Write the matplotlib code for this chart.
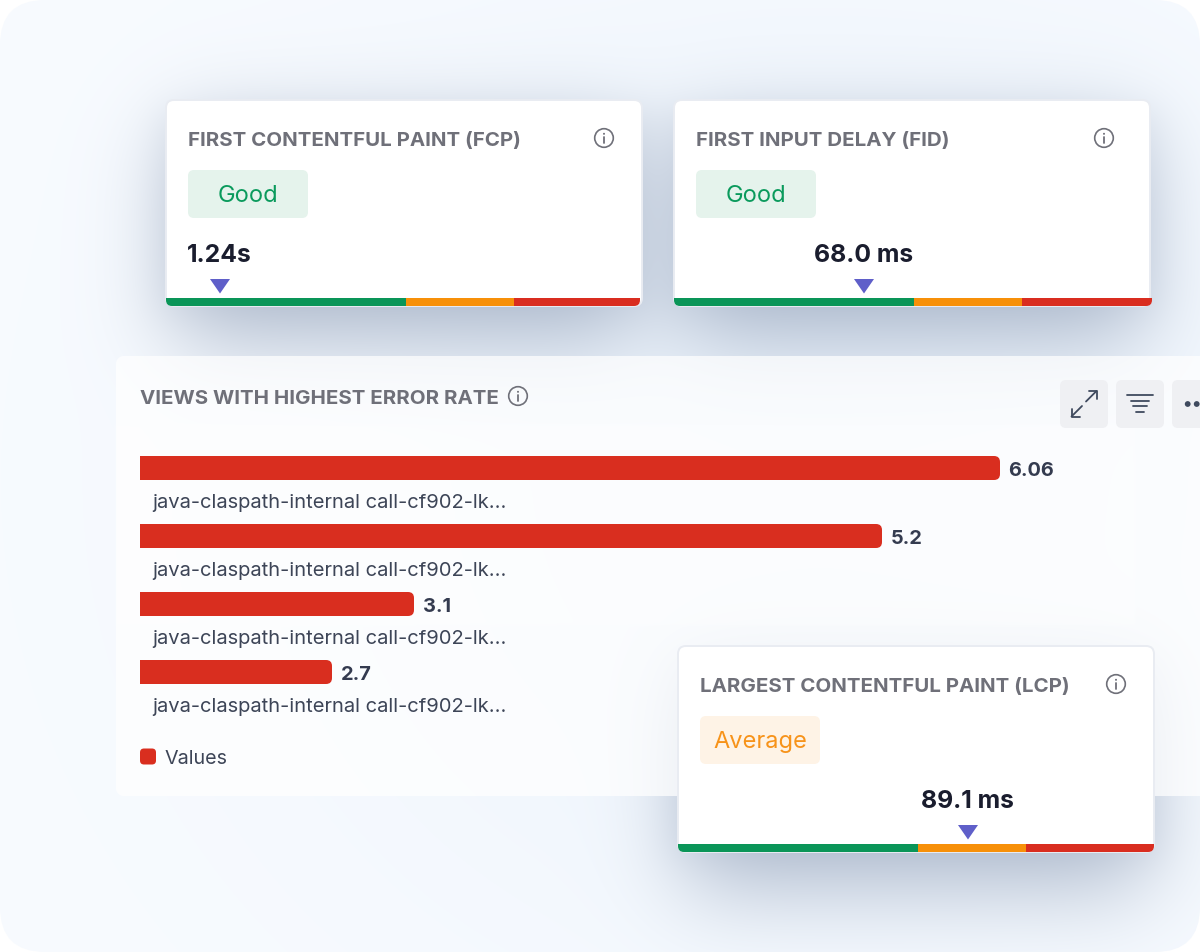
import math

import matplotlib
matplotlib.use('Agg')
import matplotlib.pyplot as plt
import numpy as np
from matplotlib.patches import Circle, PathPatch, Polygon
from matplotlib.path import Path

plt.rcParams['font.family'] = ['Inter', 'DejaVu Sans']

WIDTH, HEIGHT = 1200, 952

# bar chart values, the drawn lengths are not proportional to the labels in the source
view_names = ['java-claspath-internal call-cf902-lk...'] * 4
view_values = ['6.06', '5.2', '3.1', '2.7']
view_lengths = [860, 742, 274, 192]
legend_label = 'Values'
panel_title = 'VIEWS WITH HIGHEST ERROR RATE'

card_titles = ['FIRST CONTENTFUL PAINT (FCP)', 'FIRST INPUT DELAY (FID)', 'LARGEST CONTENTFUL PAINT (LCP)']
card_status = ['Good', 'Good', 'Average']
card_readings = ['1.24s', '68.0 ms', '89.1 ms']
card_reading_center = [219, 863.5, 967]
card_marker_x = [220, 864, 968]
# green / orange / red segment lengths of the gauge strip on each card
gauge_segments = [[240, 108, 126], [240, 108, 130], [240, 108, 128]]

GREEN = '#0a9558'
ORANGE = '#f79009'
RED = '#d92d20'
RED_BAR = '#d92e1f'
TITLE_GREY = '#6f7079'
DARK = '#1a1d2e'
SLATE = '#3d4557'
MARKER = '#5f5fc9'


def rrect(x0, y0, x1, y1, tl=0, tr=0, br=0, bl=0):
    verts = [(x0 + tl, y0), (x1 - tr, y0), (x1, y0), (x1, y0 + tr), (x1, y1 - br), (x1, y1), (x1 - br, y1),
             (x0 + bl, y1), (x0, y1), (x0, y1 - bl), (x0, y0 + tl), (x0, y0), (x0 + tl, y0), (x0 + tl, y0)]
    codes = [Path.MOVETO, Path.LINETO, Path.CURVE3, Path.CURVE3, Path.LINETO, Path.CURVE3, Path.CURVE3,
             Path.LINETO, Path.CURVE3, Path.CURVE3, Path.LINETO, Path.CURVE3, Path.CURVE3, Path.CLOSEPOLY]
    return Path(verts, codes)


def add_rrect(ax, x0, y0, x1, y1, r=(0, 0, 0, 0), color='white', **kwargs):
    patch = PathPatch(rrect(x0, y0, x1, y1, *r), facecolor=color, edgecolor=kwargs.pop('edgecolor', 'none'),
                      linewidth=kwargs.pop('linewidth', 0), **kwargs)
    ax.add_patch(patch)
    return patch


def soft_rect(x0, y0, x1, y1, sigma):
    # gaussian blurred rectangle, used for the drop shadows
    def edge(coords, a, b):
        s = sigma * math.sqrt(2)
        return np.array([0.5 * (math.erf((c - a) / s) - math.erf((c - b) / s)) for c in coords])
    return np.outer(edge(np.arange(HEIGHT) + 0.5, y0, y1), edge(np.arange(WIDTH) + 0.5, x0, x1))


def round_mask(x0, y0, x1, y1, r):
    yy, xx = np.mgrid[0:HEIGHT, 0:WIDTH] + 0.5
    cx, cy = (x0 + x1) / 2, (y0 + y1) / 2
    dx = np.abs(xx - cx) - ((x1 - x0) / 2 - r)
    dy = np.abs(yy - cy) - ((y1 - y0) / 2 - r)
    dist = np.hypot(np.maximum(dx, 0), np.maximum(dy, 0)) + np.minimum(np.maximum(dx, dy), 0) - r
    return np.clip(0.5 - dist, 0, 1)


def over(img, color, alpha):
    return img * (1 - alpha[..., None]) + np.array(color, dtype=float) * alpha[..., None]


def build_background():
    yy, xx = np.mgrid[0:HEIGHT, 0:WIDTH]
    img = np.ones((HEIGHT, WIDTH, 3)) * np.array([248.0, 251.0, 255.0])
    glow = np.exp(-(((xx - 820) / 520.0) ** 2 + ((yy - 480) / 480.0) ** 2))
    img = over(img, (232, 241, 251), 0.75 * glow)

    shadow = (112, 130, 160)
    for x0, y0, x1, y1 in [(166, 100, 642, 306), (674, 100, 1150, 306), (678, 646, 1154, 852)]:
        img = over(img, shadow, 0.50 * soft_rect(x0 + 8, y0 + 30, x1 - 8, y1 + 36, 44))
        img = over(img, shadow, 0.08 * soft_rect(x0 - 8, y0 + 8, x1 + 8, y1 + 8, 16))

    # translucent chart panel sits over the shadows
    img = over(img, (255, 255, 255), 0.72 * round_mask(116, 356, 1500, 796, 8))
    img = over(img, (255, 255, 255), 0.25 * soft_rect(116, 425, 1135, 625, 1.0))
    return np.clip(img, 0, 255).astype(np.uint8)


def info_icon(ax, cx, cy):
    ax.add_patch(Circle((cx, cy), 9.3, facecolor='none', edgecolor=TITLE_GREY, linewidth=1.2, zorder=6))
    ax.plot([cx, cx], [cy - 1, cy + 5], color=TITLE_GREY, linewidth=1.3, solid_capstyle='round', zorder=6)
    ax.add_patch(Circle((cx, cy - 4.2), 1.0, facecolor=TITLE_GREY, edgecolor='none', zorder=6))


def draw_card(ax, x0, y0, idx):
    x1, y1 = x0 + 476, y0 + 206
    add_rrect(ax, x0, y0, x1, y1, (8, 8, 8, 8), color='white', edgecolor='#e9ecf2', linewidth=1.4, zorder=4)
    ax.text(x0 + 22.5, y0 + 41, card_titles[idx], fontsize=14.75, fontweight='bold', color=TITLE_GREY,
            va='center', ha='left', zorder=6)
    info_icon(ax, x0 + (438 if idx == 0 else 430 if idx == 1 else 438), y0 + 38)

    pill_color, text_color = ('#e5f3ec', '#0a9a5c') if card_status[idx] == 'Good' else ('#fef3e6', '#f7931a')
    add_rrect(ax, x0 + 22, y0 + 70, x0 + 142, y0 + 118, (6, 6, 6, 6), color=pill_color, zorder=5)
    ax.text(x0 + 82, y0 + 96, card_status[idx], fontsize=17.0, color=text_color, va='center', ha='center', zorder=6)

    ax.text(card_reading_center[idx], y0 + 156, card_readings[idx], fontsize=17.8, fontweight='bold',
            color=DARK, va='center', ha='center', zorder=6)
    mx = card_marker_x[idx]
    ax.add_patch(Polygon([(mx - 10, y0 + 179), (mx + 10, y0 + 179), (mx, y0 + 193.5)], closed=True,
                         facecolor=MARKER, edgecolor='none', zorder=6))

    # gauge strip along the bottom edge
    left = x0
    strip_top, strip_bot = y0 + 198, y0 + 206
    for seg, color, r in zip(gauge_segments[idx], [GREEN, ORANGE, RED], [(0, 0, 0, 6), (0, 0, 0, 0), (0, 0, 6, 0)]):
        add_rrect(ax, left, strip_top, left + seg, strip_bot, r, color=color, zorder=7)
        left += seg


def draw_toolbar(ax):
    for x0 in (1060, 1116, 1172):
        add_rrect(ax, x0, 380, x0 + 48, 428, (6, 6, 6, 6), color='#eff0f3', zorder=3)
    style = dict(color='#3f4a5e', linewidth=1.3, solid_capstyle='round', solid_joinstyle='round', zorder=4)
    ax.plot([1086, 1096.5], [401.5, 391], **style)
    ax.plot([1088.5, 1096.5, 1096.5], [391, 391, 399], **style)
    ax.plot([1082, 1071.5], [406, 416.5], **style)
    ax.plot([1071.5, 1071.5, 1080], [408.5, 416.5, 416.5], **style)
    for y, half in [(395, 12.7), (400.5, 9.3), (406, 7), (412, 4)]:
        ax.plot([1140 - half, 1140 + half], [y, y], **style)
    for x in (1187.7, 1196.7):
        ax.add_patch(Circle((x, 404), 2.9, facecolor='#3f4a5e', edgecolor='none', zorder=4))


def draw_panel(ax):
    ax.text(140.5, 398.5, panel_title, fontsize=14.75, fontweight='bold', color=TITLE_GREY, va='center', ha='left',
            zorder=3)
    info_icon(ax, 518, 396)
    draw_toolbar(ax)

    tops = [456, 524, 592, 660]
    centers = [t + 12 for t in tops]
    bars = ax.barh(centers, view_lengths, height=24, left=140, color=RED_BAR, linewidth=0, zorder=2)
    for bar, length, top, center, name, value in zip(bars, view_lengths, tops, centers, view_names, view_values):
        clip = PathPatch(rrect(130, top, 140 + length, top + 24, 0, 6, 6, 0), transform=ax.transData)
        bar.set_clip_path(clip)
        ax.text(140 + length + 8.5, center + 3, value, fontsize=14.4, fontweight='bold', color='#343b4f',
                va='center', ha='left', zorder=3)
        ax.text(152, center + 35, name, fontsize=14.5, color=SLATE, va='center', ha='left', zorder=3)

    add_rrect(ax, 140, 748.5, 156, 764.5, (4, 4, 4, 4), color=RED_BAR, zorder=3)
    ax.text(164.5, 759, legend_label, fontsize=14.2, color=SLATE, va='center', ha='left', zorder=3)


def main():
    fig = plt.figure(figsize=(WIDTH / 100, HEIGHT / 100), dpi=100, facecolor='white')
    ax = fig.add_axes([0, 0, 1, 1])
    ax.set_xlim(0, WIDTH)
    ax.set_ylim(HEIGHT, 0)
    ax.axis('off')

    bg = ax.imshow(build_background(), extent=(0, WIDTH, HEIGHT, 0), interpolation='nearest', aspect='auto', zorder=0)
    bg.set_clip_path(PathPatch(rrect(0, 0, WIDTH, HEIGHT, 45, 45, 45, 45), transform=ax.transData))
    ax.set_xlim(0, WIDTH)
    ax.set_ylim(HEIGHT, 0)

    draw_panel(ax)
    draw_card(ax, 166, 100, 0)
    draw_card(ax, 674, 100, 1)
    draw_card(ax, 678, 646, 2)

    fig.savefig('out.png', dpi=100, facecolor='white')
    plt.close(fig)


if __name__ == '__main__':
    main()
